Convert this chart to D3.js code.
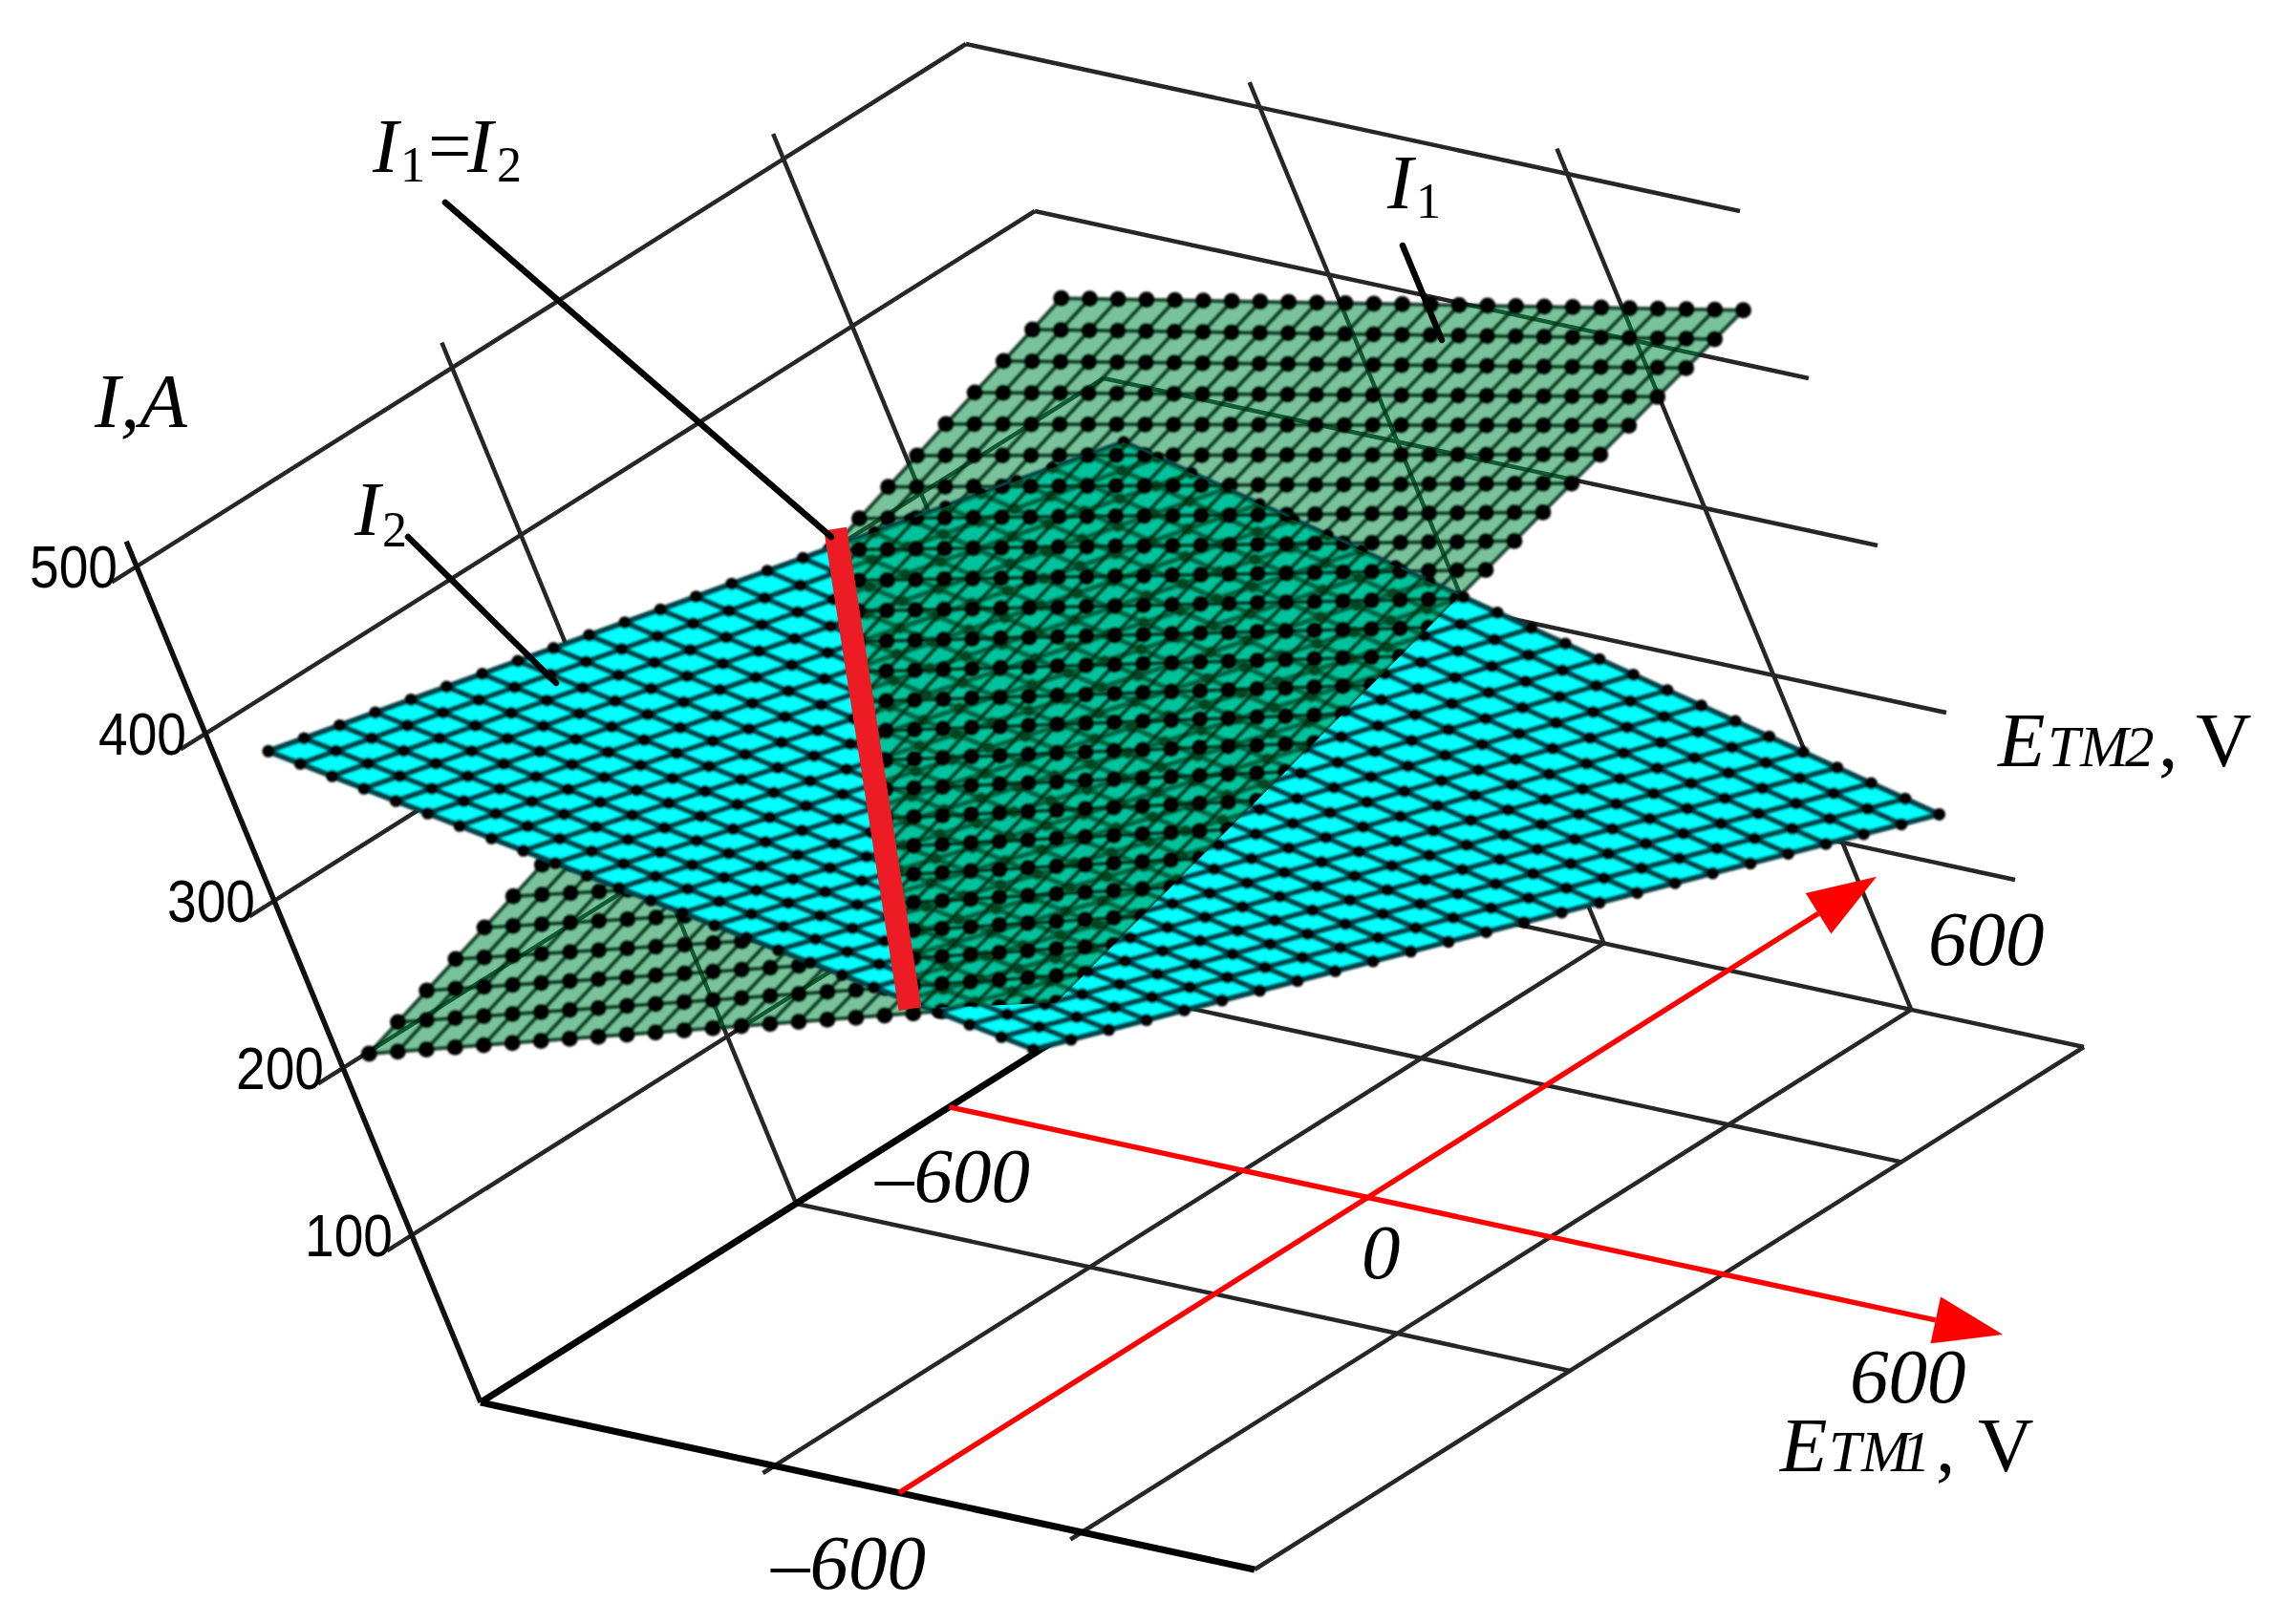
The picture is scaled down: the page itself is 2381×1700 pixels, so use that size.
<!DOCTYPE html>
<html>
<head>
<meta charset="utf-8">
<script src="https://cdn.jsdelivr.net/npm/d3@7"></script>
<style>
  html, body { margin: 0; background: #fff; }
  text { font-family: "Liberation Serif", serif; fill: #000; }
</style>
</head>
<body>
<div id="graph"></div>
<script>
// values
const e1Domain = [-715, 589];
const e2Domain = [-737, 567];
const iDomain = [0, 500];
const e1Ticks = [-220, 298];
const e2Ticks = [-241, 280];
const iTicks = [100, 200, 300, 400, 500];

// plane corners, order: (low e1, low e2), (high e1, low e2), (low e1, high e2), (high e1, high e2)
const i1E1 = [-669, 574, -676, 539];
const i1E2 = [-728, -683, 529, 554];
const i1Val = [210, 325, 360, 440];
const i2E1 = [-643, 533, -688, 531];
const i2E2 = [-716, -708, 541, 545];
const i2Val = [390, 300, 270, 140];
const meshCells = 24;

// I1 = I2 line
const crossE1 = [-668, 340];
const crossE2 = [123, -711];
const crossI = [320, 310];

// red axes
const axisE1 = [-715, 1060];
const axisE1AtE2 = 0;
const axisE2 = [-737, 800];
const axisE2AtE1 = -10;

const width = 2381, height = 1700;
const origin = [503, 1468];
const e1Vec = [810, 175];
const e2Vec = [868, -547];
const iVec = [-360, -875];

const e1Pos = d3.scaleLinear().domain(e1Domain).range([0, 1]);
const e2Pos = d3.scaleLinear().domain(e2Domain).range([0, 1]);
const iPos = d3.scaleLinear().domain(iDomain).range([0, 1]);

function project(e1, e2, i) {
  let a = e1Pos(e1), b = e2Pos(e2), c = iPos(i);
  return [origin[0] + a * e1Vec[0] + b * e2Vec[0] + c * iVec[0],
          origin[1] + a * e1Vec[1] + b * e2Vec[1] + c * iVec[1]];
}

const line = d3.line();

const svg = d3.select('#graph').append('svg')
  .attr('width', width).attr('height', height)
  .style('display', 'block')
  .style('background', '#fff');

const defs = svg.append('defs');
defs.append('filter').attr('id', 'soft')
  .attr('x', '-5%').attr('y', '-5%').attr('width', '110%').attr('height', '110%')
  .append('feGaussianBlur').attr('stdDeviation', 0.9);

function seg(parent, p, q, w, color) {
  parent.append('path')
    .attr('d', line([p, q]))
    .attr('fill', 'none')
    .attr('stroke', color || '#262626')
    .attr('stroke-width', w);
}

// ---- box
const box = svg.append('g');
const [e1a, e1b] = e1Domain;
const [e2a, e2b] = e2Domain;
const e2Stub = e2a - 1304 * 0.03;
const iTop = 515;

// wall lines, left wall then back wall
iTicks.forEach(v => {
  seg(box, project(e1a, e2Stub, v), project(e1a, e2b, v), 4.5);
  seg(box, project(e1a, e2b, v), project(e1b, e2b, v), 4.5);
});
e2Ticks.forEach(v => {
  seg(box, project(e1a, v, iTop), project(e1a, v, 0), 4.5);
  seg(box, project(e1a, v, 0), project(e1b, v, 0), 4.5);
});
e1Ticks.forEach(v => {
  seg(box, project(v, e2b, iTop), project(v, e2b, 0), 4.5);
  seg(box, project(v, e2a - 18, 0), project(v, e2b, 0), 4.5);
});
// floor edges
seg(box, project(e1a, e2b, 0), project(e1b, e2b, 0), 4.5);
seg(box, project(e1b, e2a, 0), project(e1b, e2b, 0), 4.5);
seg(box, project(e1a, e2a, 0), project(e1a, e2b, 0), 7, '#000');
seg(box, project(e1a, e2a, 0), project(e1b, e2a, 0), 7, '#000');
seg(box, project(e1a, e2a, 0), project(e1a, e2a, iTop), 5.5, '#111');

// ---- planes
function corner(vals, s, t) {
  let low = d3.scaleLinear().domain([0, 1]).range([vals[0], vals[1]])(s);
  let high = d3.scaleLinear().domain([0, 1]).range([vals[2], vals[3]])(s);
  return d3.scaleLinear().domain([0, 1]).range([low, high])(t);
}

function drawPlane(parent, e1s, e2s, vals, o) {
  let at = (s, t) => project(corner(e1s, s, t), corner(e2s, s, t), corner(vals, s, t));
  let g = parent.append('g').attr('filter', 'url(#soft)');
  g.append('path')
    .attr('d', line([at(0, 0), at(1, 0), at(1, 1), at(0, 1)]) + 'Z')
    .attr('fill', o.fill)
    .attr('fill-opacity', o.opacity);
  let steps = d3.range(meshCells + 1).map(k => k / meshCells);
  steps.forEach(s => {
    seg(g, at(s, 0), at(s, 1), o.lineWidth, o.lineColor);
    seg(g, at(0, s), at(1, s), o.lineWidth, o.lineColor);
  });
  let nodes = d3.cross(steps, steps);
  g.selectAll('circle').data(nodes).enter().append('circle')
    .attr('cx', d => at(d[0], d[1])[0])
    .attr('cy', d => at(d[0], d[1])[1])
    .attr('r', o.dot)
    .attr('fill', '#000');
}

const i1Style = { fill: '#008b44', opacity: 0.52, lineColor: 'rgba(0,40,20,0.85)', lineWidth: 4, dot: 8.5 };
const i2Style = { fill: '#00ffff', opacity: 1, lineColor: '#00454a', lineWidth: 6, dot: 6.5 };

drawPlane(svg, i1E1, i1E2, i1Val, i1Style);
drawPlane(svg, i2E1, i2E2, i2Val, i2Style);

// the part of I1 that lies above I2, drawn again over it
const crossTop = project(crossE1[0], crossE2[0], crossI[0]);
const crossBottom = project(crossE1[1], crossE2[1], crossI[1]);
const clipPts = [crossTop,
  project(i1E1[2], i1E2[2], i1Val[2]),
  project(i1E1[3], i1E2[3], i1Val[3]),
  project(i1E1[1], i1E2[1], i1Val[1]),
  crossBottom];
defs.append('clipPath').attr('id', 'aboveI2').append('path').attr('d', line(clipPts) + 'Z');
// only the I2 covered part gets repainted, the rest of I1 is already there
const i2Mask = [project(i2E1[0], i2E2[0], i2Val[0]), project(i2E1[1], i2E2[1], i2Val[1]),
                project(i2E1[3], i2E2[3], i2Val[3]), project(i2E1[2], i2E2[2], i2Val[2])];
defs.append('clipPath').attr('id', 'onI2').append('path').attr('d', line(i2Mask) + 'Z');
drawPlane(svg.append('g').attr('clip-path', 'url(#onI2)').append('g').attr('clip-path', 'url(#aboveI2)'),
  i1E1, i1E2, i1Val, i1Style);

// ---- intersection line
seg(svg, crossTop, crossBottom, 24, '#ed1c24');

// ---- red axes
function arrow(p, q) {
  let len = Math.hypot(q[0] - p[0], q[1] - p[1]);
  let ux = (q[0] - p[0]) / len, uy = (q[1] - p[1]) / len;
  let bx = q[0] - ux * 72, by = q[1] - uy * 72;
  seg(svg, p, [bx, by], 5.5, '#ff0000');
  svg.append('path')
    .attr('d', line([q, [bx - uy * 25, by + ux * 25], [bx + uy * 25, by - ux * 25]]) + 'Z')
    .attr('fill', '#ff0000');
}
arrow(project(axisE1[0], axisE1AtE2, 0), project(axisE1[1], axisE1AtE2, 0));
arrow(project(axisE2AtE1, axisE2[0], 0), project(axisE2AtE1, axisE2[1], 0));

// ---- leader lines
const leaders = [
  [[466, 212], [870, 562]],
  [[427, 562], [582, 715]],
  [[1468, 257], [1509, 356]]
];
leaders.forEach(l => {
  svg.append('path').attr('d', line(l))
    .attr('stroke', '#000').attr('stroke-width', 6.5)
    .attr('stroke-linecap', 'round').attr('fill', 'none');
});

// ---- tick labels
iTicks.forEach(v => {
  let p = project(e1a, e2a, v);
  svg.append('text')
    .attr('x', p[0] - 112).attr('y', p[1] + 22)
    .attr('textLength', 92).attr('lengthAdjust', 'spacingAndGlyphs')
    .style('font-family', '"Liberation Sans", sans-serif')
    .style('font-size', '63px')
    .text(v);
});

// ---- labels
function label(x, y, parts) {
  let t = svg.append('text').attr('y', y);
  parts.forEach(d => {
    t.append('tspan')
      .attr('x', x + d.x)
      .attr('y', y + (d.dy || 0))
      .style('font-size', (d.size || 81) + 'px')
      .style('font-style', d.upright ? 'normal' : 'italic')
      .text(d.s);
  });
}

label(99, 447, [{ x: 0, s: 'I,A' }]);
label(371, 560, [{ x: 0, s: 'I' }, { x: 29, s: '2', size: 52, dy: 12, upright: true }]);
label(390, 180, [
  { x: 0, s: 'I' },
  { x: 29, s: '1', size: 52, dy: 10, upright: true },
  { x: 58, s: '=', upright: true },
  { x: 99, s: 'I' },
  { x: 130, s: '2', size: 52, dy: 10, upright: true }
]);
label(1452, 218, [{ x: 0, s: 'I' }, { x: 30, s: '1', size: 52, dy: 10, upright: true }]);

label(916, 1258, [{ x: 0, s: '–600' }]);
label(807, 1663, [{ x: 0, s: '–600' }]);
label(1425, 1338, [{ x: 0, s: '0' }]);
label(2018, 1010, [{ x: 0, s: '600' }]);
label(1936, 1468, [{ x: 0, s: '600' }]);

label(2091, 802, [
  { x: 0, s: 'E' },
  { x: 52, s: 'TM', size: 61 },
  { x: 133, s: '2', size: 61 },
  { x: 168, s: ',', upright: true },
  { x: 207, s: 'V', upright: true }
]);
label(1863, 1540, [
  { x: 0, s: 'E' },
  { x: 51, s: 'TM', size: 61 },
  { x: 127, s: '1', size: 61 },
  { x: 163, s: ',', upright: true },
  { x: 207, s: 'V', upright: true }
]);
</script>
</body>
</html>
